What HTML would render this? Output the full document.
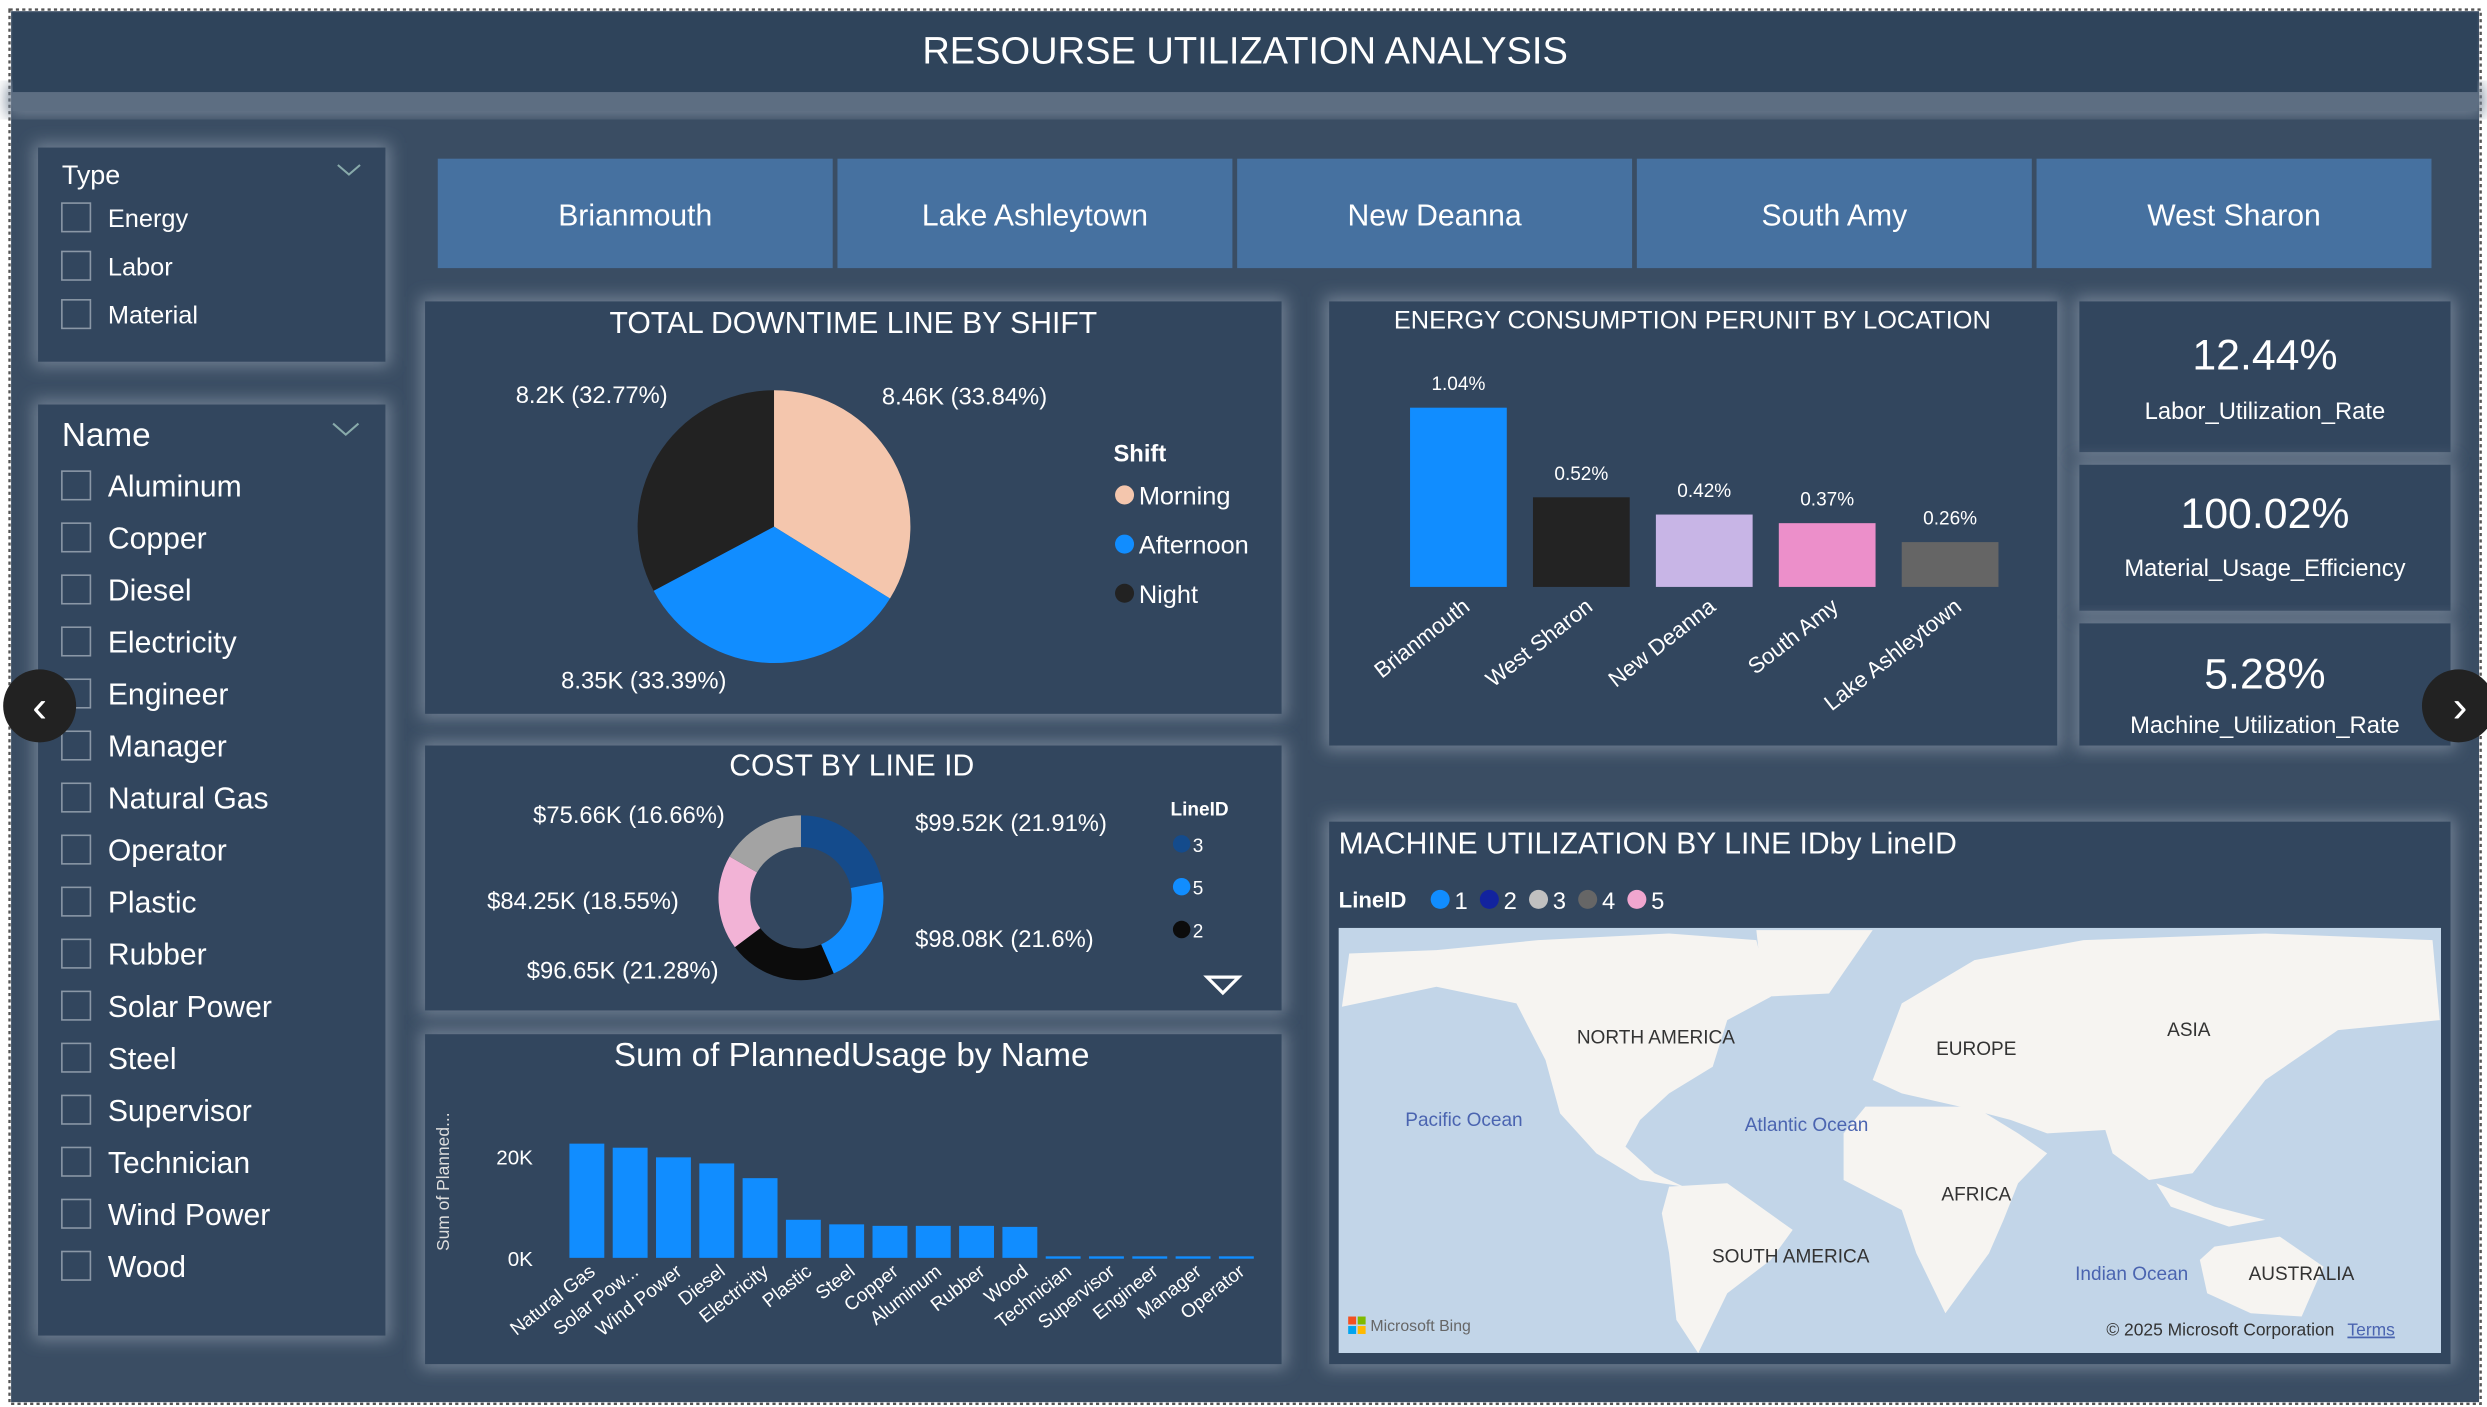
<!DOCTYPE html>
<html><head><meta charset="utf-8">
<style>
html,body{margin:0;padding:0;background:#fff;}
svg{display:block;}
text{font-family:"Liberation Sans",sans-serif;}
</style></head>
<body>
<svg id="root" width="2487" height="1407" viewBox="0 0 1568 887" xmlns="http://www.w3.org/2000/svg">
<defs>
<filter id="glow" x="-10%" y="-10%" width="120%" height="120%"><feGaussianBlur stdDeviation="5"/></filter>
</defs>
<rect x="0" y="0" width="1568" height="887" fill="#fff"/>
<rect x="7" y="7" width="1556" height="877" fill="#3a4d63"/>
<rect x="6" y="6" width="1558" height="879" fill="none" stroke="#555" stroke-width="1.5" stroke-dasharray="2,2"/>
<g id="panels"></g>
<rect x="8" y="8" width="1554" height="50" fill="#2f445b"/>
<text x="785" y="40" text-anchor="middle" fill="#fff" font-size="24">RESOURSE UTILIZATION ANALYSIS</text>

<!-- Type slicer -->
<g>
<text x="39" y="116" fill="#fff" font-size="17">Type</text>
<path d="M213 104 l7 6 l7 -6" fill="none" stroke="#8aa" stroke-width="1.3"/>
<g id="typeItems"></g>
</g>
<!-- Name slicer -->
<g>
<text x="39" y="281" fill="#fff" font-size="21">Name</text>
<path d="M210 267 l8 7 l8 -7" fill="none" stroke="#8aa" stroke-width="1.3"/>
<g id="nameItems"></g>
</g>
<g id="buttons"></g>

<!-- Pie -->
<text x="538" y="210" text-anchor="middle" fill="#fff" font-size="19">TOTAL DOWNTIME LINE BY SHIFT</text>
<g id="pie"></g>
<text x="702" y="291" fill="#fff" font-size="15" font-weight="bold">Shift</text>
<g id="pieLegend"></g>

<!-- Donut -->
<text x="537" y="489" text-anchor="middle" fill="#fff" font-size="19">COST BY LINE ID</text>
<g id="donut"></g>
<text x="738" y="514" fill="#fff" font-size="12" font-weight="bold">LineID</text>
<g id="donutLegend"></g>
<path d="M761 616 h20 l-10 10 z" fill="none" stroke="#fff" stroke-width="2"/>

<!-- Planned usage -->
<text x="537" y="672" text-anchor="middle" fill="#fff" font-size="21">Sum of PlannedUsage by Name</text>
<text transform="translate(283,745) rotate(-90)" text-anchor="middle" fill="#ddd" font-size="11">Sum of Planned...</text>
<g id="planned"></g>

<!-- Energy -->
<text x="1067" y="207" text-anchor="middle" fill="#fff" font-size="16">ENERGY CONSUMPTION PERUNIT BY LOCATION</text>
<g id="energy"></g>

<!-- KPI -->
<g id="kpis"></g>

<!-- Map -->
<text x="844" y="538" fill="#fff" font-size="19">MACHINE UTILIZATION BY LINE IDby LineID</text>
<text x="844" y="572" fill="#fff" font-size="14" font-weight="bold">LineID</text>
<g id="mapLegend"></g>
<g>
<rect x="844" y="585" width="695" height="268" fill="#c2d5e8"/>
<clipPath id="mc"><rect x="844" y="585" width="695" height="268"/></clipPath>
<g clip-path="url(#mc)">
<g transform="translate(832.3,580.1) scale(0.4584,0.21)" fill="#f6f4f1">
<path d="M160 90 L300 60 L480 40 L600 60 L620 230 L560 300 L540 440 L480 520 L440 600 L420 680 L460 760 L500 800 L440 780 L380 700 L330 580 L310 420 L270 250 L160 200 L30 260 L40 100 Z"/>
<path d="M600 30 L760 30 L700 220 L610 230 Z"/>
<path d="M480 800 L560 790 L650 930 L620 1020 L560 1120 L520 1300 L490 1200 L480 1000 L470 880 Z"/>
<path d="M750 560 L900 560 L960 640 L1000 700 L960 790 L940 900 L920 1000 L860 1180 L820 1000 L800 870 L720 780 L720 640 Z"/>
<path d="M760 480 L800 250 L900 120 L1050 60 L1300 40 L1530 60 L1540 300 L1400 330 L1300 480 L1250 620 L1200 760 L1140 780 L1090 700 L1080 630 L1000 640 L950 600 L880 560 L800 520 Z"/>
<path d="M1230 980 L1320 950 L1380 1040 L1350 1190 L1280 1180 L1220 1120 L1210 1020 Z"/>
<path d="M1150 790 L1230 860 L1300 900 L1250 920 L1170 860 Z"/>
</g></g>
<g font-size="12" fill="#333">
<text x="1044" y="658" text-anchor="middle">NORTH AMERICA</text>
<text x="1246" y="665" text-anchor="middle">EUROPE</text>
<text x="1380" y="653" text-anchor="middle">ASIA</text>
<text x="1246" y="757" text-anchor="middle">AFRICA</text>
<text x="1129" y="796" text-anchor="middle">SOUTH AMERICA</text>
<text x="1451" y="807" text-anchor="middle">AUSTRALIA</text>
</g>
<g font-size="12" fill="#4a64b0">
<text x="923" y="710" text-anchor="middle">Pacific Ocean</text>
<text x="1139" y="713" text-anchor="middle">Atlantic Ocean</text>
<text x="1344" y="807" text-anchor="middle">Indian Ocean</text>
</g>
<g>
<rect x="850" y="830" width="5" height="5" fill="#f25022"/><rect x="856" y="830" width="5" height="5" fill="#7fba00"/>
<rect x="850" y="836" width="5" height="5" fill="#00a4ef"/><rect x="856" y="836" width="5" height="5" fill="#ffb900"/>
<text x="864" y="839" font-size="10" fill="#666">Microsoft Bing</text>
</g>
<text x="1328" y="842" font-size="11" fill="#333">© 2025 Microsoft Corporation</text>
<text x="1480" y="842" font-size="11" fill="#4a64b0" text-decoration="underline">Terms</text>
</g>

<!-- nav arrows -->
<circle cx="25" cy="445" r="23" fill="#222"/>
<text x="25" y="455" text-anchor="middle" fill="#fff" font-size="28">‹</text>
<circle cx="1550" cy="445" r="23" fill="#222"/>
<text x="1551" y="455" text-anchor="middle" fill="#fff" font-size="28">›</text>
</svg>
<script>
const NS='http://www.w3.org/2000/svg';
function mk(parent,tag,attrs,txt){const e=document.createElementNS(NS,tag);for(const k in attrs)e.setAttribute(k,attrs[k]);if(txt!==undefined)e.textContent=txt;parent.appendChild(e);return e;}

// ---- data ----
const typeNames=['Energy','Labor','Material'];
const slicerNames=['Aluminum','Copper','Diesel','Electricity','Engineer','Manager','Natural Gas','Operator','Plastic','Rubber','Solar Power','Steel','Supervisor','Technician','Wind Power','Wood'];
const locations=['Brianmouth','Lake Ashleytown','New Deanna','South Amy','West Sharon'];
const shiftNames=['Morning','Afternoon','Night'];
const shiftValues=[8.46,8.35,8.2];
const shiftLabels=['8.46K (33.84%)','8.35K (33.39%)','8.2K (32.77%)'];
const lineIds=['3','5','2','4','1'];
const lineCosts=[99.52,98.08,96.65,84.25,75.66];
const lineLabels=['$99.52K (21.91%)','$98.08K (21.6%)','$96.65K (21.28%)','$84.25K (18.55%)','$75.66K (16.66%)'];
const usageNames=['Natural Gas','Solar Pow...','Wind Power','Diesel','Electricity','Plastic','Steel','Copper','Aluminum','Rubber','Wood','Technician','Supervisor','Engineer','Manager','Operator'];
const usageValues=[22500,21700,19800,18600,15700,7500,6600,6300,6300,6300,6100,300,300,300,300,300];
const usageTicks=[0,20000];
const usageTickLabels=['0K','20K'];
const energyLocs=['Brianmouth','West Sharon','New Deanna','South Amy','Lake Ashleytown'];
const energyValues=[1.04,0.52,0.42,0.37,0.26];
const kpiValues=['12.44%','100.02%','5.28%'];
const kpiLabels=['Labor_Utilization_Rate','Material_Usage_Efficiency','Machine_Utilization_Rate'];
const mapLegendIds=['1','2','3','4','5'];

// ---- panels ----
const P=document.getElementById('panels');
const panels=[['type-slicer-panel',24,93,219,135],['name-slicer-panel',24,255,219,587],['downtime-panel',268,190,540,260],['cost-panel',268,470,540,167],['planned-usage-panel',268,652,540,208],['energy-panel',838,190,459,280],['kpi-labor-panel',1311,190,234,95],['kpi-material-panel',1311,293,234,92],['kpi-machine-panel',1311,393,234,77],['map-panel',838,518,707,342],['title-glow',8,56,1554,14]];
panels.forEach(p=>{
  const g=mk(P,'rect',{x:p[1]-3,y:p[2]-3,width:p[3]+6,height:p[4]+6,fill:'#6f7f92',filter:'url(#glow)'});
  
  
  const r=mk(P,'rect',{x:p[1],y:p[2],width:p[3],height:p[4],fill:p[0]==='title-glow'?'#5d6e82':'#32465e'});
  
  
});

// ---- slicers ----
const TI=document.getElementById('typeItems');
typeNames.forEach((n,i)=>{
  const y=137+i*30.5;
  const b=mk(TI,'rect',{x:39,y:y-9,width:18,height:18,fill:'none',stroke:'#8a97a6','stroke-width':1});
  
  
  const t=mk(TI,'text',{x:68,y:y+6,fill:'#fff','font-size':16},n);
  
  
});
const NI=document.getElementById('nameItems');
slicerNames.forEach((n,i)=>{
  const y=306+i*32.8;
  const b=mk(NI,'rect',{x:39,y:y-9,width:18,height:18,fill:'none',stroke:'#8a97a6','stroke-width':1});
  
  
  const t=mk(NI,'text',{x:68,y:y+7,fill:'#fff','font-size':19},n);
  
  
});

// ---- buttons ----
const B=document.getElementById('buttons');
locations.forEach((n,i)=>{
  const x=276+i*252;
  const r=mk(B,'rect',{x:x,y:100,width:249,height:69,fill:'#4671a0'});
  
  
  const t=mk(B,'text',{x:x+124.5,y:142,'text-anchor':'middle',fill:'#fff','font-size':19},n);
  
  
});

// ---- pie ----
function arcPath(cx,cy,r0,r1,a0,a1){
  const p=(r,a)=>[cx+r*Math.sin(a),cy-r*Math.cos(a)];
  const lg=(a1-a0)>Math.PI?1:0;
  const [x0,y0]=p(r1,a0),[x1,y1]=p(r1,a1);
  if(r0===0)return `M${cx} ${cy} L${x0} ${y0} A${r1} ${r1} 0 ${lg} 1 ${x1} ${y1} Z`;
  const [x2,y2]=p(r0,a1),[x3,y3]=p(r0,a0);
  return `M${x0} ${y0} A${r1} ${r1} 0 ${lg} 1 ${x1} ${y1} L${x2} ${y2} A${r0} ${r0} 0 ${lg} 0 ${x3} ${y3} Z`;
}
const pieColors=['#f4c6ad','#118dff','#222222'];
const PG=document.getElementById('pie');
const pcx=488,pcy=332,pr=86;
let tot=shiftValues.reduce((a,b)=>a+b,0),a=0;
const pieLabelPos=[[556,255,'start'],[458,434,'end'],[421,254,'end']];
shiftValues.forEach((v,i)=>{
  const a1=a+v/tot*2*Math.PI;
  const s=mk(PG,'path',{d:arcPath(pcx,pcy,0,pr,a,a1),fill:pieColors[i]});
  
  
  const lp=pieLabelPos[i];
  const t=mk(PG,'text',{x:lp[0],y:lp[1],'text-anchor':lp[2],fill:'#fff','font-size':15},shiftLabels[i]);
  
  
  a=a1;
});
const PL=document.getElementById('pieLegend');
shiftNames.forEach((n,i)=>{
  const y=312+i*31;
  const c=mk(PL,'circle',{cx:709,cy:y,r:6,fill:pieColors[i]});
  
  
  const t=mk(PL,'text',{x:718,y:y+6,fill:'#fff','font-size':16},n);
  
  
});

// ---- donut ----
const donutColors=['#144b8c','#118dff','#0c0c0c','#f2b3d6','#a3a3a3'];
const DG=document.getElementById('donut');
const dcx=505,dcy=566;
tot=lineCosts.reduce((x,y)=>x+y,0);a=0;
const donutLabelPos=[[577,524,'start'],[577,597,'start'],[453,617,'end'],[428,573,'end'],[457,519,'end']];
lineCosts.forEach((v,i)=>{
  const a1=a+v/tot*2*Math.PI;
  const s=mk(DG,'path',{d:arcPath(dcx,dcy,32,52,a,a1),fill:donutColors[i]});
  
  
  const lp=donutLabelPos[i];
  const t=mk(DG,'text',{x:lp[0],y:lp[1],'text-anchor':lp[2],fill:'#fff','font-size':15},lineLabels[i]);
  
  
  a=a1;
});
const DL=document.getElementById('donutLegend');
lineIds.slice(0,3).forEach((n,i)=>{
  const y=532+i*27;
  const c=mk(DL,'circle',{cx:745,cy:y,r:5.5,fill:donutColors[i]});
  
  
  const t=mk(DL,'text',{x:752,y:y+5,fill:'#fff','font-size':12},n);
  
  
});

// ---- planned usage bars ----
const PU=document.getElementById('planned');
const yBase=793,yPer=64/20000,x0=359,pitch=27.3,bw=22;
const yU=v=>yBase-v*yPer;
usageTicks.forEach((t,i)=>{
  const e=mk(PU,'text',{x:336,y:yU(t)+5,'text-anchor':'end',fill:'#fff','font-size':13},usageTickLabels[i]);
  
  
});
usageValues.forEach((v,i)=>{
  const x=x0+i*pitch;
  const r=mk(PU,'rect',{x:x,y:yU(v),width:bw,height:Math.max(1.5,v*yPer),fill:'#118dff'});
  
  
  const t=mk(PU,'text',{x:0,y:0,transform:`translate(${x+bw/2+6},${yBase+10}) rotate(-38)`,'text-anchor':'end',fill:'#fff','font-size':12},usageNames[i]);
  
  
});

// ---- energy bars ----
const EG=document.getElementById('energy');
const eBase=370,ePer=113/1.04,ex0=889,ePitch=77.5,ebw=61;
const energyColors=['#118dff','#232323','#c8b5e6','#ec8fca','#656565'];
energyValues.forEach((v,i)=>{
  const x=ex0+i*ePitch;
  const r=mk(EG,'rect',{x:x,y:eBase-v*ePer,width:ebw,height:v*ePer,fill:energyColors[i]});
  
  
  const l=mk(EG,'text',{x:x+ebw/2,y:eBase-v*ePer-11,'text-anchor':'middle',fill:'#fff','font-size':12},v.toFixed(2)+'%');
  
  
  const t=mk(EG,'text',{x:0,y:0,transform:`translate(${x+ebw/2+8},${eBase+14}) rotate(-38)`,'text-anchor':'end',fill:'#fff','font-size':14},energyLocs[i]);
  
  
});

// ---- KPIs ----
const K=document.getElementById('kpis');
const kpiY=[[233,264],[333,363],[434,462]];
kpiValues.forEach((v,i)=>{
  const a=mk(K,'text',{x:1428,y:kpiY[i][0],'text-anchor':'middle',fill:'#fff','font-size':27},v);
  
  
  const b=mk(K,'text',{x:1428,y:kpiY[i][1],'text-anchor':'middle',fill:'#fff','font-size':15},kpiLabels[i]);
  
  
});

// ---- map legend ----
const ML=document.getElementById('mapLegend');
const mapColors=['#118dff','#12239e','#c0c0c0','#666666','#f0a6cf'];
mapLegendIds.forEach((n,i)=>{
  const x=908+i*31;
  const c=mk(ML,'circle',{cx:x,cy:567,r:6,fill:mapColors[i]});
  
  
  const t=mk(ML,'text',{x:x+9,y:573,fill:'#fff','font-size':15},n);
  
  
});
</script>
</body></html>
